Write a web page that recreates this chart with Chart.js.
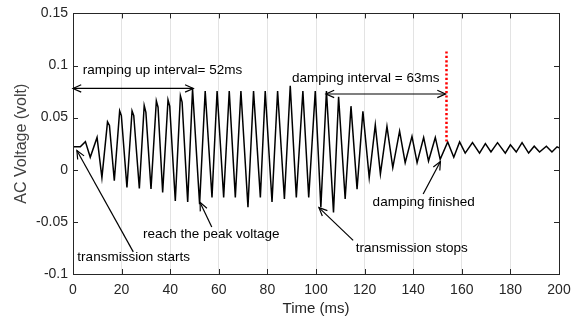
<!DOCTYPE html>
<html>
<head>
<meta charset="utf-8">
<script src="https://cdn.jsdelivr.net/npm/chart.js@4.4.1/dist/chart.umd.min.js"></script>
<style>
  html, body { margin: 0; padding: 0; background: #fff; }
  #wrap { width: 587px; height: 322px; }
</style>
</head>
<body>
<div id="wrap"><canvas id="voltChart"></canvas></div>
<script>
// peak / trough vertices
const timeMs = [0, 3, 5.1, 7.1, 9.9, 11.9, 14.2, 15.0, 17, 19.2, 19.9, 22.2, 24.3, 25.0, 27.3, 29.3, 30.0, 32.1, 34.3, 35.0, 36.9, 39.1, 39.8, 42.1, 44.2, 44.9, 47.2, 49.2,
    52.1, 54.4, 57.2, 59.3, 62, 64.3, 66.8, 69.1, 72, 74.3, 77.1, 79.1, 81.9, 84.2, 87, 89.4, 91.9, 94.6, 97, 99.7, 102, 104.3,
    107.2, 109.3, 112, 114.4, 116.9, 119.3, 121.9, 124.4, 126.5, 129.2, 131.6, 134.4, 136.7, 139.5, 141.6, 144.3, 146.3, 149.1, 151.1,
    154.2, 156.7, 159.1, 161.4, 164.4, 167.3, 169.7, 172, 174.7, 177.9, 180, 182.4, 184.8, 187.5, 189.8, 192, 194.8, 197.1, 199.2, 200];
const acVolt = [0.022, 0.022, 0.027, 0.012, 0.031, -0.0075, 0.046, 0.0426, -0.0106, 0.0565, 0.052, -0.017, 0.0565, 0.052, -0.018, 0.0616, 0.055, -0.0185, 0.066, 0.060, -0.0217, 0.067, 0.061, -0.030, 0.071, 0.065, -0.031, 0.0775,
    -0.033, 0.0755, -0.0265, 0.0755, -0.0265, 0.0755, -0.0265, 0.0755, -0.036, 0.0755, -0.0265, 0.0755, -0.031, 0.0755, -0.028, 0.0806, -0.0265, 0.0755, -0.0265, 0.0755, -0.036, 0.0755,
    -0.041, 0.070, -0.028, 0.061, -0.0186, 0.056, -0.0075, 0.043, -0.004, 0.0416, 0.002, 0.037, 0.0068, 0.032, 0.0068, 0.031, 0.0084, 0.031, 0.010,
    0.0267, 0.012, 0.0267, 0.016, 0.026, 0.016, 0.025, 0.017, 0.026, 0.016, 0.024, 0.017, 0.026, 0.016, 0.0226, 0.017, 0.0226, 0.017, 0.022, 0.021];
const xTicks = [0, 20, 40, 60, 80, 100, 120, 140, 160, 180, 200];
const yTicks = [-0.1, -0.05, 0, 0.05, 0.1, 0.15];

// annotations, in data units
const arrows = [
    { from: [0, 0.078], to: [49.5, 0.078], both: true },
    { from: [104.1, 0.0727], to: [153.3, 0.0727], both: true },
    { from: [24.8, -0.0788], to: [1.6, 0.0185] },
    { from: [57.1, -0.055], to: [52.3, -0.0313] },
    { from: [115.3, -0.0677], to: [101.2, -0.0363] },
    { from: [144.1, -0.0233], to: [151.2, 0.0079] },
];
const notes = [
    { text: "ramping up interval= 52ms", at: [4, 0.0958] },
    { text: "damping interval = 63ms", at: [90.1, 0.0875] },
    { text: "transmission starts", at: [1.8, -0.084] },
    { text: "reach the peak voltage", at: [28.8, -0.062] },
    { text: "transmission stops", at: [116.4, -0.0753] },
    { text: "damping finished", at: [123.3, -0.0313] },
];
const marker = { x: 153.7, y0: 0.027, y1: 0.115 };

const axisColor = "#262626";
const font = "Liberation Sans, Arial, Helvetica, sans-serif";

function fmt(v) {
    return String(Number(v.toFixed(2)));
}

function drawHead(ctx, x1, y1, x2, y2) {
    const a = Math.atan2(y2 - y1, x2 - x1);
    const len = 9, spread = 0.42;
    ctx.beginPath();
    ctx.moveTo(x2 - len * Math.cos(a - spread), y2 - len * Math.sin(a - spread));
    ctx.lineTo(x2, y2);
    ctx.lineTo(x2 - len * Math.cos(a + spread), y2 - len * Math.sin(a + spread));
    ctx.stroke();
}

const decor = {
    id: "decor",
    afterDatasetsDraw(chart) {
        const ctx = chart.ctx;
        const xs = chart.scales.x, ys = chart.scales.y;
        const a = chart.chartArea;
        ctx.save();

        // frame + inward ticks
        ctx.strokeStyle = axisColor;
        ctx.lineWidth = 1;
        ctx.strokeRect(Math.round(a.left) + 0.5, Math.round(a.top) + 0.5, Math.round(a.right - a.left), Math.round(a.bottom - a.top));
        ctx.beginPath();
        xTicks.forEach(v => {
            const px = Math.round(xs.getPixelForValue(v)) + 0.5;
            ctx.moveTo(px, a.bottom); ctx.lineTo(px, a.bottom - 5);
            ctx.moveTo(px, a.top); ctx.lineTo(px, a.top + 5);
        });
        yTicks.forEach(v => {
            const py = Math.round(ys.getPixelForValue(v)) + 0.5;
            ctx.moveTo(a.left, py); ctx.lineTo(a.left + 5, py);
            ctx.moveTo(a.right, py); ctx.lineTo(a.right - 5, py);
        });
        ctx.stroke();

        // red dotted marker
        ctx.strokeStyle = "#ff0000";
        ctx.lineWidth = 2.5;
        ctx.setLineDash([2.2, 2.2]);
        ctx.beginPath();
        ctx.moveTo(xs.getPixelForValue(marker.x), ys.getPixelForValue(marker.y0));
        ctx.lineTo(xs.getPixelForValue(marker.x), ys.getPixelForValue(marker.y1));
        ctx.stroke();
        ctx.setLineDash([]);

        // arrows
        ctx.strokeStyle = "#000";
        ctx.lineWidth = 1.2;
        arrows.forEach(ar => {
            const x1 = xs.getPixelForValue(ar.from[0]), y1 = ys.getPixelForValue(ar.from[1]);
            const x2 = xs.getPixelForValue(ar.to[0]), y2 = ys.getPixelForValue(ar.to[1]);
            ctx.beginPath();
            ctx.moveTo(x1, y1); ctx.lineTo(x2, y2);
            ctx.stroke();
            drawHead(ctx, x1, y1, x2, y2);
            if (ar.both) drawHead(ctx, x2, y2, x1, y1);
        });

        // labels
        ctx.fillStyle = "#000";
        ctx.font = "13.5px " + font;
        ctx.textAlign = "left";
        ctx.textBaseline = "middle";
        notes.forEach(n => {
            ctx.fillText(n.text, xs.getPixelForValue(n.at[0]), ys.getPixelForValue(n.at[1]));
        });
        ctx.restore();
    }
};

const ctx = document.getElementById("voltChart").getContext("2d");
const voltChart = new Chart(ctx, {
    type: "scatter",
    data: {
        datasets: [{
            data: timeMs.map((t, i) => ({ x: t, y: acVolt[i] })),
            showLine: true,
            borderColor: "#000",
            borderWidth: 1.5,
            pointRadius: 0,
            tension: 0,
        }],
    },
    options: {
        responsive: true,
        maintainAspectRatio: false,
        animation: false,
        layout: { padding: { top: 11, right: 28, left: 0, bottom: 0 } },
        plugins: { legend: { display: false }, tooltip: { enabled: false } },
        scales: {
            x: {
                type: "linear",
                min: 0,
                max: 200,
                afterBuildTicks: s => { s.ticks = xTicks.map(v => ({ value: v })); },
                afterFit: s => { s.height = 48; },
                grid: {
                    drawTicks: false,
                    color: c => (c.tick && (c.tick.value === 0 || c.tick.value === 200)) ? "rgba(0,0,0,0)" : "#e3e3e3",
                },
                border: { display: false },
                ticks: { color: axisColor, padding: 8, font: { family: font, size: 14 }, maxRotation: 0 },
                title: { display: true, text: "Time (ms)", color: axisColor, font: { family: font, size: 15 }, padding: { top: 0 } },
            },
            y: {
                min: -0.1,
                max: 0.15,
                afterBuildTicks: s => { s.ticks = yTicks.map(v => ({ value: v })); },
                afterFit: s => { s.width = 73; },
                grid: { display: false, drawTicks: false },
                border: { display: false },
                ticks: { color: axisColor, padding: 5, font: { family: font, size: 14 }, callback: v => fmt(v) },
                title: { display: true, text: "AC Voltage (volt)", color: "#404040", font: { family: font, size: 16 }, padding: { top: 12, bottom: 0 } },
            },
        },
    },
    plugins: [decor],
});
</script>
</body>
</html>
